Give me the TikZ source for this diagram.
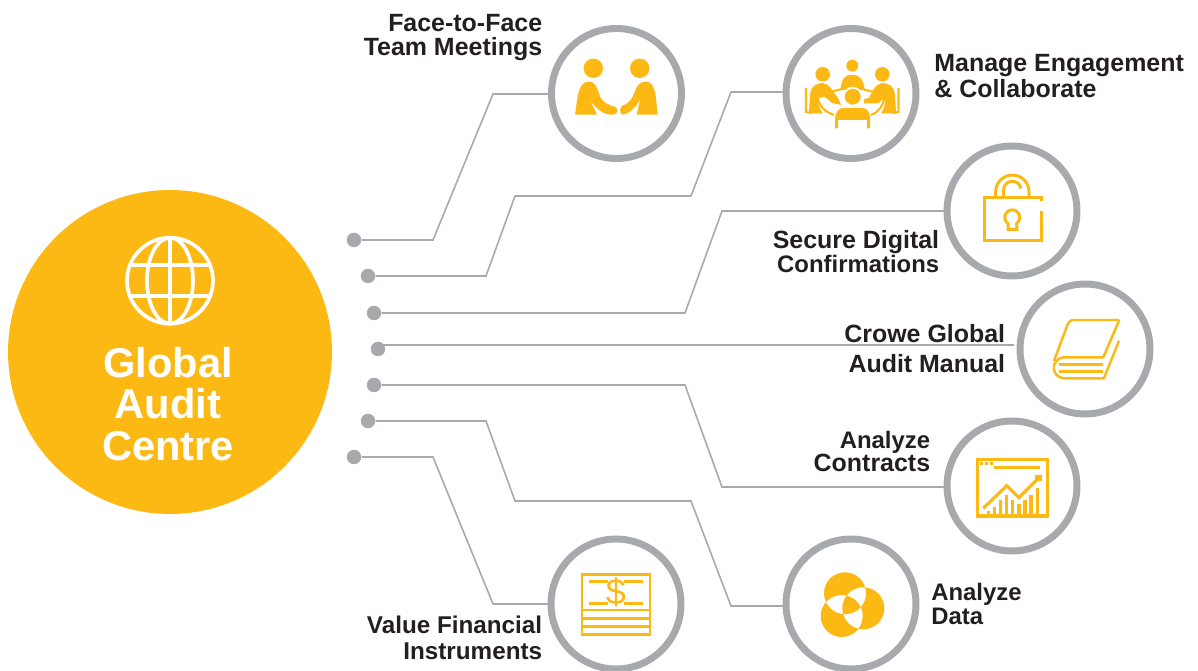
\documentclass[tikz,border=0pt]{standalone}
\usepackage{fontspec}
\setmainfont{Liberation Sans}
\usepackage{xcolor}
\definecolor{gold}{HTML}{FDB913}
\definecolor{ringgrey}{HTML}{A7A9AC}
\definecolor{inkdark}{HTML}{231F20}
\newcommand{\slimline}[1]{{\fontsize{13.6}{13.2}\selectfont #1}}
\tikzset{
  ring/.style={circle,draw=ringgrey,line width=3.97pt,fill=white,minimum size=2.6cm,inner sep=0pt},
  pin/.style={circle,fill=ringgrey,minimum size=0.29cm,inner sep=0pt},
  wire/.style={draw=ringgrey,line width=0.9pt},
  caption/.style={text=inkdark,inner sep=0pt,font=\bfseries\fontsize{14.2}{13.2}\selectfont},
  icon/.style={draw=gold,line width=1.7pt},
  iconfill/.style={fill=gold}
}
\begin{document}
\begin{tikzpicture}[x=0.02cm,y=-0.02cm]
\clip (0,0) rectangle (1198,671);

%%    NODES   %%
\node[circle,fill=gold,minimum size=6.48cm,inner sep=0pt] (Hub) at (170,352) {};
\node[text=white,align=center,inner sep=0pt,font=\bfseries\fontsize{23.7}{23.8}\selectfont] (HubText) at (168,404) {Global\\Audit\\Centre};

\foreach \name/\x/\y in {Pin1/354/240,Pin2/368/276,Pin3/374/313,Pin4/378/349,Pin5/374/385,Pin6/368/421,Pin7/354/457}
  \node[pin] (\name) at (\x,\y) {};

\coordinate (ManualStart) at (379,345);
\coordinate (ManualEnd) at (1014,345);

%%    ARROWS    %%
\draw[wire] (Pin1) -- (433,240) -- (493,94) -- (616,94);
\draw[wire] (Pin2) -- (486,276) -- (515,196) -- (691,196) -- (731,92) -- (851,92);
\draw[wire] (Pin3) -- (685,313) -- (722,211) -- (1012,211);
\draw[wire,line width=1.7pt] (ManualStart) -- (ManualEnd);
\draw[wire] (Pin5) -- (685,385) -- (722,487) -- (1012,487);
\draw[wire] (Pin6) -- (486,421) -- (515,501) -- (691,501) -- (731,606) -- (851,606);
\draw[wire] (Pin7) -- (433,457) -- (493,604) -- (616,604);

\node[ring] (Face) at (616.5,93.5) {};
\node[ring] (Manage) at (851,93.5) {};
\node[ring] (Secure) at (1012,211) {};
\node[ring] (Crowe) at (1085,349) {};
\node[ring] (Contracts) at (1012,486) {};
\node[ring] (Data) at (851,604) {};
\node[ring] (Value) at (616,604) {};

\node[caption,align=right,anchor=east] (FaceText) at (542.5,37.5) {Face-to-Face\\Team Meetings};
\node[caption,align=left,anchor=west] (ManageText) at (934,76) {Manage Engagement\\\& Collaborate};
\node[caption,align=right,anchor=east] (SecureText) at (939.5,251.5) {Secure Digital\\\slimline{Confirmations}};
\node[caption,align=right,anchor=east,font=\bfseries\fontsize{14.2}{17}\selectfont] (CroweText) at (1005.5,349) {Crowe Global\\Audit Manual};
\node[caption,align=right,anchor=east] (ContractsText) at (930.5,451.5) {\slimline{Analyze}\\Contracts};
\node[caption,align=left,anchor=west] (DataText) at (931,604) {\slimline{Analyze}\\\slimline{Data}};
\node[caption,align=right,anchor=east,font=\bfseries\fontsize{13.8}{14.7}\selectfont] (ValueText) at (542.5,637.5) {Value Financial\\Instruments};

%%    GLOBE    %%
\begin{scope}[draw=white,line width=2.1pt]
\draw (170,280.7) circle [radius=43];
\draw (170,280.7) ellipse [x radius=23,y radius=43];
\draw (170,237.7) -- (170,323.7);
\draw (130,265) -- (210,265);
\draw (130,296) -- (210,296);
\end{scope}

%%    HANDSHAKE    %%
\fill[iconfill] (593.3,68.3) circle [radius=9.7];
\fill[iconfill] (639.7,68.3) circle [radius=9.7];
\fill[iconfill] (575,114.7) .. controls (577,104) and (577,82) .. (588,81.7) .. controls (596,81.5) and (597,88) .. (599,94) .. controls (602,103) and (609,105) .. (615,107) .. controls (619,109) and (618,114) .. (613,114.7) .. controls (604,115) and (597,110) .. (590,100) -- (597,114.7) -- cycle;
\fill[iconfill] (657.7,114.7) .. controls (656,104) and (657,82) .. (646.7,81.7) .. controls (639,81.5) and (637,86) .. (635,91) .. controls (632,100) and (628,104) .. (621.7,106) -- (620,110) -- (621.7,114.7) .. controls (629,114) and (634,109) .. (640,100) -- (636.7,114.7) -- cycle;

%%    MEETING    %%
\fill[iconfill] (852.3,65.7) circle [radius=6];
\fill[iconfill] (822.7,74.3) circle [radius=7.3];
\fill[iconfill] (882.3,74.3) circle [radius=7.3];
\fill[iconfill] (840.5,90) .. controls (841,80) and (845,74) .. (852,75) .. controls (859,74) and (864,80) .. (864.5,90) -- cycle;
\fill[iconfill] (835,128.3) -- (835,118) .. controls (836,111) and (839,108) .. (843,108) -- (862,108) .. controls (867,108) and (870,112) .. (870,118) -- (870,128.3) -- (867,128.3) -- (867,120) -- (838,120) -- (838,128.3) -- cycle;
\fill[iconfill] (809,112) -- (810,95) .. controls (811,85) and (818,83) .. (823,83) .. controls (830,84) and (833,92) .. (838,98) -- (841,105) -- (832,103) -- (825,97) -- (818,98) .. controls (817,104) and (820,109) .. (823,113.5) -- (809,113.5) -- cycle;
\fill[iconfill] (896,112) -- (895,95) .. controls (894,85) and (887,83) .. (882,83) .. controls (875,84) and (872,92) .. (869,98) -- (864,99) -- (864,103.5) -- (878,103.5) -- (884,98) .. controls (886,104) and (884,109) .. (881,113.5) -- (896,113.5) -- cycle;
\fill[iconfill,draw=white,line width=1pt] (852.7,96.7) circle [radius=9];
\draw[icon,line width=1.2pt] (806,88) -- (806,112) -- (812,113);
\draw[icon,line width=1.2pt] (898.5,88) -- (898.5,112) -- (892,113);
\draw[icon,line width=1.2pt] (818,98) .. controls (819,106) and (825,112) .. (834,115);
\draw[icon,line width=1.2pt] (884,98) .. controls (883,106) and (879,112) .. (871,115);
\draw[icon,line width=1.2pt] (830,92) -- (842,89);
\draw[icon,line width=1.2pt] (862,89) -- (874,92);

%%    PADLOCK    %%
\draw[icon] (1041,210.7) -- (1041,240.7) -- (984.3,240.7) -- (984.3,197.7) -- (1041,197.7) -- (1041,201);
\draw[icon] (995.7,197.7) -- (995.7,191.7) arc [start angle=180,end angle=360,radius=16.65] -- (1029,197.7);
\draw[icon] (1003.5,197) -- (1003.5,190) arc [start angle=180,end angle=350,radius=8.8];
\draw[icon] (1008,223.5) arc [start angle=125,end angle=415,radius=7.5] -- (1017,229.5) -- (1008,229.5) -- cycle;

%%    BOOK    %%
\draw[icon,line width=1.4pt,line join=round] (1119.3,320) -- (1074,320) .. controls (1070,320) and (1068.5,322) .. (1067,326) -- (1054,361);
\draw[icon,line width=1.4pt,line join=round] (1119.3,320) -- (1103.3,357.3) -- (1065,357.3) .. controls (1050,357.3) and (1050,378.3) .. (1065,378.3) -- (1104,378.3) -- (1119,340.7);
\draw[icon,line width=1.4pt] (1059.3,364.3) -- (1102.7,364.3);
\draw[icon,line width=1.4pt] (1059.3,371.7) -- (1102.7,371.7);

%%    CHART    %%
\draw[icon,line width=1.9pt] (977.3,459.3) rectangle (1047.7,516);
\draw[icon,line width=1.6pt] (994.3,467.7) -- (1040,467.7);
\foreach \x in {981.7,986.7,991.7}
  \fill[iconfill] (\x-1.5,462) rectangle (\x+1.5,465.5);
\foreach \x/\top in {988.3/511,994.3/506.7,1000.7/500,1006.7/495,1012.7/500,1019/504.3,1025/500,1031/495,1037.3/488.3}
  \draw[icon,line width=1.9pt] (\x,\top) -- (\x,514);
\draw[icon,draw=white,line width=3pt] (983.3,508.3) -- (1006.7,485.7) -- (1019,497.7) -- (1038.3,478.3);
\draw[icon,line width=1.8pt] (983.3,508.3) -- (1006.7,485.7) -- (1019,497.7) -- (1038.3,478.3);
\fill[iconfill] (1035,475) rectangle (1041.5,481.5);

%%    VENN    %%
\fill[iconfill,even odd rule] (845,593.3) circle [radius=21] (863.3,608.3) circle [radius=21] (841.7,616) circle [radius=21];

%%    BANKNOTE    %%
\draw[icon] (582,574.2) rectangle (650,634.5);
\draw[icon] (582,610) -- (650,610);
\draw[icon] (582,618.3) -- (650,618.3);
\draw[icon] (582,626.7) -- (650,626.7);
\foreach \y in {581.7,603.3}{
  \draw[icon] (589,\y) -- (607.7,\y);
  \draw[icon] (624.3,\y) -- (643,\y);
}
\node[text=gold,inner sep=0pt,font=\fontsize{20.5}{21}\selectfont] (Dollar) at (616,592.3) {\$};

\end{tikzpicture}
\end{document}
